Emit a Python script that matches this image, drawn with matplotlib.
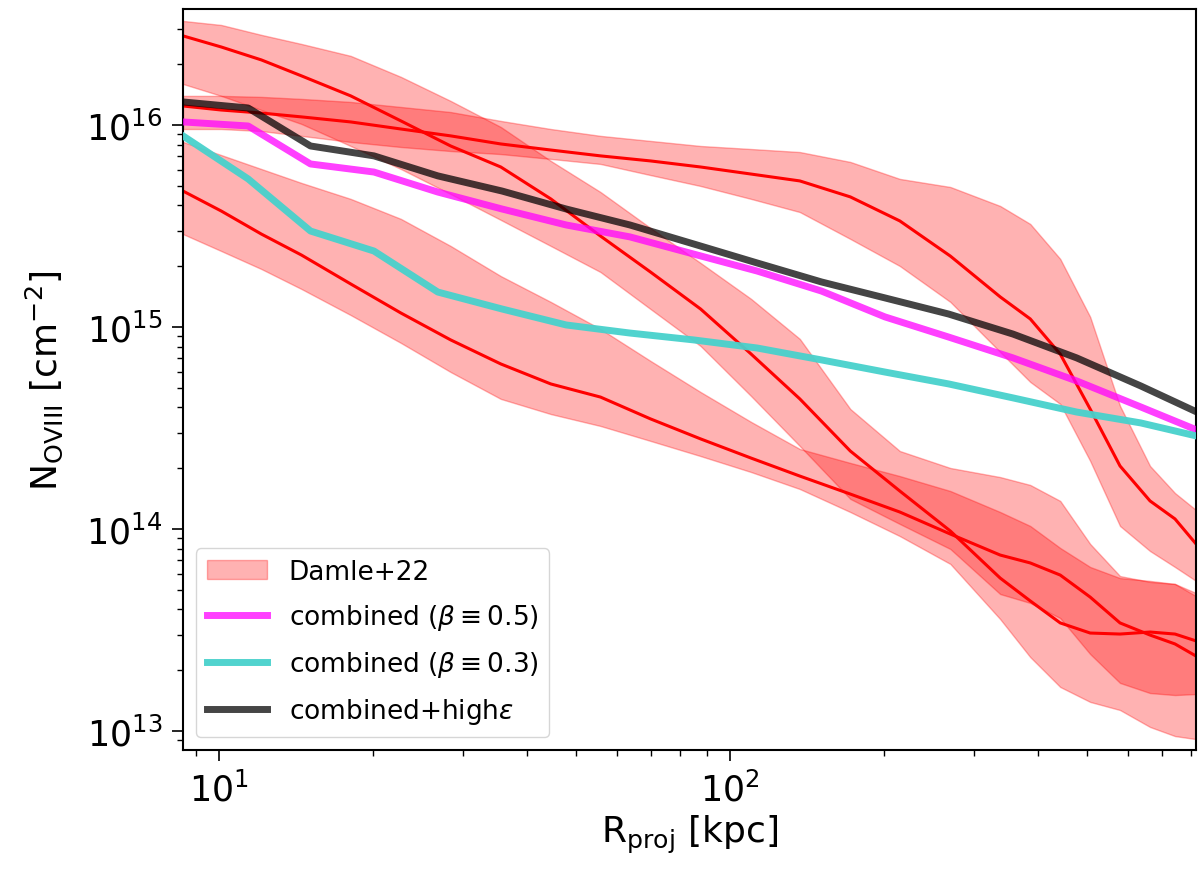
import numpy as np
import matplotlib
matplotlib.use("Agg")
import matplotlib.pyplot as plt

# Damle+22 profiles: radius grid (kpc) and log10 N(OVIII) [cm^-2]
r_damle = [8.5, 10.1, 12.1, 14.5, 18.1, 22.7, 28.4, 35.6, 44.6, 55.8, 69.9, 87.6,
           110, 137, 172, 215, 270, 338, 387, 443, 507, 580, 664, 743, 817]

damle1_mid = [16.441, 16.386, 16.322, 16.243, 16.144, 16.020, 15.896, 15.792, 15.634,
              15.450, 15.272, 15.089, 14.866, 14.644, 14.386, 14.188, 13.990, 13.757,
              13.644, 13.535, 13.485, 13.480, 13.490, 13.480, 13.446]
damle1_hi = [16.515, 16.495, 16.446, 16.401, 16.342, 16.238, 16.119, 15.990, 15.822,
             15.668, 15.490, 15.317, 15.139, 14.941, 14.594, 14.386, 14.302, 14.257,
             14.218, 14.139, 13.926, 13.767, 13.738, 13.728, 13.668]
damle1_lo = [16.203, 16.144, 16.074, 16.005, 15.896, 15.782, 15.658, 15.530, 15.401,
             15.272, 15.089, 14.906, 14.658, 14.411, 14.149, 14.025, 13.901, 13.678,
             13.634, 13.559, 13.381, 13.238, 13.188, 13.178, 13.183]

damle2_mid = [16.094, 16.074, 16.059, 16.040, 16.015, 15.980, 15.946, 15.906, 15.876,
              15.847, 15.822, 15.792, 15.757, 15.723, 15.644, 15.525, 15.351, 15.149,
              15.040, 14.866, 14.594, 14.312, 14.139, 14.050, 13.926]
damle2_hi = [16.144, 16.144, 16.139, 16.129, 16.114, 16.089, 16.064, 16.020, 15.980,
             15.946, 15.921, 15.896, 15.881, 15.866, 15.817, 15.733, 15.693, 15.599,
             15.510, 15.337, 15.050, 14.609, 14.312, 14.178, 14.094]
damle2_lo = [15.980, 15.980, 15.970, 15.946, 15.916, 15.891, 15.871, 15.856, 15.832,
             15.807, 15.752, 15.698, 15.634, 15.569, 15.436, 15.302, 15.124, 14.876,
             14.728, 14.619, 14.337, 14.015, 13.891, 13.812, 13.743]

damle3_mid = [15.673, 15.574, 15.460, 15.356, 15.213, 15.069, 14.936, 14.817, 14.718,
              14.653, 14.545, 14.446, 14.351, 14.262, 14.173, 14.084, 13.975, 13.871,
              13.832, 13.772, 13.663, 13.535, 13.475, 13.431, 13.371]
damle3_hi = [15.916, 15.851, 15.782, 15.713, 15.634, 15.535, 15.401, 15.252, 15.124,
             14.990, 14.832, 14.678, 14.530, 14.396, 14.327, 14.262, 14.188, 14.084,
             14.015, 13.906, 13.812, 13.757, 13.743, 13.728, 13.683]
damle3_lo = [15.460, 15.376, 15.287, 15.188, 15.059, 14.921, 14.777, 14.644, 14.569,
             14.510, 14.436, 14.361, 14.282, 14.198, 14.084, 13.965, 13.827, 13.554,
             13.366, 13.218, 13.144, 13.104, 13.020, 12.975, 12.960]

# model profiles
r_model = [8.5, 11.4, 15.1, 20.1, 26.8, 35.8, 47.8, 63.7, 84.9, 113, 151, 201,
           268, 358, 477, 637, 820]
comb_b05 = [16.015, 15.995, 15.807, 15.767, 15.668, 15.584, 15.505, 15.446, 15.361,
            15.277, 15.178, 15.050, 14.950, 14.847, 14.733, 14.604, 14.490]
comb_b03 = [15.946, 15.733, 15.475, 15.376, 15.173, 15.089, 15.010, 14.970, 14.936,
            14.896, 14.837, 14.777, 14.718, 14.649, 14.579, 14.525, 14.460]
comb_higheps = [16.114, 16.084, 15.896, 15.847, 15.748, 15.673, 15.584, 15.505, 15.411,
                15.317, 15.223, 15.144, 15.064, 14.965, 14.847, 14.708, 14.579]

fig = plt.figure(figsize=(12, 8.78), dpi=100)
ax = fig.add_axes([0.1525, 0.1446, 0.8442, 0.844])

r = np.array(r_damle)
bands = [(damle1_lo, damle1_mid, damle1_hi),
         (damle2_lo, damle2_mid, damle2_hi),
         (damle3_lo, damle3_mid, damle3_hi)]
for i, (lo, mid, hi) in enumerate(bands):
    ax.fill_between(r, 10**np.array(lo), 10**np.array(hi), color='r', alpha=0.3,
                    label='Damle+22' if i == 0 else None, zorder=1)
    ax.plot(r, 10**np.array(mid), color='r', lw=2.2, zorder=2)

rm = np.array(r_model)
ax.plot(rm, 10**np.array(comb_b05), color='magenta', alpha=0.75, lw=5,
        label=r'combined ($\beta\equiv0.5$)', zorder=3)
ax.plot(rm, 10**np.array(comb_b03), color='mediumturquoise', alpha=0.95, lw=5,
        label=r'combined ($\beta\equiv0.3$)', zorder=3)
ax.plot(rm, 10**np.array(comb_higheps), color='k', alpha=0.73, lw=5,
        label=r'combined+high$\epsilon$', zorder=3)

ax.set_xscale('log')
ax.set_yscale('log')
ax.set_xlim(8.5, 817)
ax.set_ylim(8.05e12, 3.75e16)

ax.set_xlabel(r'$\mathrm{R_{proj}}$ [kpc]', fontsize=26)
ax.set_ylabel(r'$\mathrm{N_{OVIII}}$ [cm$^{-2}$]', fontsize=26, labelpad=15)
ax.tick_params(which='major', labelsize=25, length=8, width=1.2, pad=7)
ax.tick_params(which='minor', length=4.5, width=1)
for sp in ax.spines.values():
    sp.set_linewidth(1.5)

ax.legend(loc='lower left', fontsize=19, handlelength=2.3, labelspacing=0.65)

fig.savefig('out.png', dpi=100)
